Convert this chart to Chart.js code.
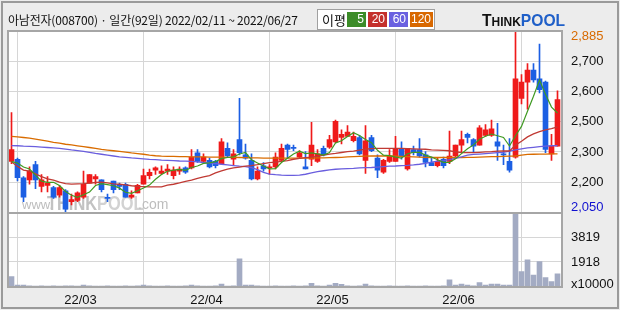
<!DOCTYPE html>
<html><head><meta charset="utf-8">
<script src="https://cdn.jsdelivr.net/npm/chart.js@4.4.1/dist/chart.umd.min.js"></script>
<style>
html,body{margin:0;padding:0;background:#ececec;}
#wrap{position:relative;width:620px;height:310px;overflow:hidden;}
#c{position:absolute;left:0;top:0;}
.h{position:absolute;white-space:nowrap;}
#title{left:8px;top:11px;font:12px "Noto Sans CJK KR",sans-serif;color:#111;letter-spacing:-0.2px;}
#legend{left:317px;top:9px;width:118px;height:21px;background:#fff;border:1px solid #a0a0a0;box-sizing:border-box;}
#legend .t{position:absolute;left:4px;top:1px;font:13px "Noto Sans CJK KR",sans-serif;color:#111;line-height:17px;}
#legend .b{position:absolute;top:2px;height:15px;color:#fff;font:12px "Liberation Sans",sans-serif;line-height:15px;text-align:right;box-sizing:border-box;padding-right:2px;}
#logo{left:482px;top:11px;font-family:"Liberation Sans",Arial,sans-serif;font-weight:bold;transform:scaleX(0.92);transform-origin:left top;}
</style></head>
<body>
<div id="wrap">
<canvas id="c" width="620" height="310"></canvas>
<div class="h" id="title">아남전자(008700) · 일간(92일) 2022/02/11 ~ 2022/06/27</div>
<div class="h" id="legend"><span class="t">이평</span>
<span class="b" style="left:29px;width:19px;background:#3c8c28">5</span>
<span class="b" style="left:50px;width:19px;background:#c4302c">20</span>
<span class="b" style="left:71px;width:19px;background:#6a60e0">60</span>
<span class="b" style="left:92px;width:23px;background:#d86800">120</span>
</div>
<div class="h" id="logo"><span style="font-size:17px;color:#111">T</span><span style="font-size:13px;color:#111">HINK</span><span style="font-size:17px;color:#1f5fc8">POOL</span></div>
</div>
<script>
const opens  = [2285,2295,2210,2200,2270,2170,2175,2165,2130,2150,2100,2105,2120,2185,2205,2200,2120,2195,2180,2180,2120,2140,2180,2220,2245,2230,2240,2220,2240,2255,2255,2325,2285,2290,2285,2275,2345,2295,2385,2315,2290,2205,2265,2255,2260,2290,2360,2350,2305,2260,2295,2285,2345,2350,2375,2395,2400,2380,2395,2290,2395,2300,2235,2285,2285,2345,2250,2340,2340,2315,2280,2265,2295,2285,2310,2360,2410,2385,2360,2405,2405,2375,2320,2285,2305,2575,2650,2705,2665,2650,2320,2355];
const highs  = [2510,2300,2215,2260,2285,2225,2215,2170,2175,2155,2135,2145,2240,2225,2225,2200,2135,2195,2185,2185,2150,2180,2250,2250,2260,2265,2270,2260,2260,2260,2340,2340,2320,2300,2290,2390,2370,2340,2575,2365,2320,2260,2280,2270,2325,2365,2365,2360,2335,2330,2465,2340,2355,2405,2475,2430,2450,2420,2405,2450,2405,2315,2295,2340,2400,2375,2345,2355,2390,2330,2305,2300,2305,2425,2360,2425,2415,2390,2450,2455,2475,2460,2360,2390,2885,2685,2735,2735,2825,2655,2410,2610];
const lows   = [2275,2195,2100,2180,2160,2145,2145,2115,2120,2050,2085,2100,2115,2185,2180,2145,2100,2140,2155,2120,2115,2140,2180,2205,2225,2225,2225,2205,2225,2230,2250,2280,2280,2255,2255,2270,2305,2270,2315,2295,2200,2200,2240,2225,2250,2285,2300,2335,2300,2250,2265,2280,2310,2345,2370,2365,2400,2375,2315,2230,2330,2210,2230,2280,2285,2295,2245,2315,2305,2260,2265,2260,2255,2275,2300,2330,2370,2330,2360,2400,2400,2290,2270,2235,2300,2550,2525,2650,2600,2325,2290,2355];
const closes = [2340,2210,2120,2240,2200,2200,2185,2120,2165,2065,2110,2140,2180,2225,2215,2155,2115,2155,2170,2120,2130,2175,2220,2235,2255,2240,2250,2245,2250,2235,2305,2285,2305,2260,2265,2375,2310,2320,2325,2300,2205,2240,2250,2260,2305,2345,2340,2345,2325,2250,2360,2320,2315,2385,2470,2410,2420,2400,2320,2380,2335,2245,2290,2310,2345,2310,2345,2325,2310,2280,2265,2285,2265,2310,2360,2385,2395,2355,2440,2430,2435,2355,2315,2245,2665,2650,2705,2660,2615,2340,2355,2570];
const volumes = [790,150,150,80,70,80,75,80,70,85,80,75,150,80,70,75,80,70,75,80,70,80,150,80,75,70,80,75,70,80,150,80,75,70,80,230,75,80,2150,150,150,80,75,70,80,75,70,80,75,80,280,80,75,150,280,210,80,75,80,230,80,75,70,80,75,70,80,75,70,80,75,70,80,540,150,230,150,80,330,150,230,230,150,150,5600,1175,2070,920,1940,715,410,1000];
const ma5   = [2284,2278,2259,2250,2222,2194,2189,2189,2174,2147,2129,2120,2132,2144,2174,2183,2178,2173,2162,2143,2138,2150,2163,2176,2203,2225,2240,2245,2248,2244,2257,2264,2276,2278,2284,2298,2303,2306,2319,2326,2292,2278,2264,2251,2252,2280,2300,2319,2332,2321,2324,2320,2314,2326,2370,2380,2400,2417,2404,2386,2371,2336,2314,2312,2305,2300,2320,2327,2327,2314,2305,2293,2281,2281,2297,2321,2343,2361,2387,2401,2411,2403,2395,2356,2403,2446,2516,2585,2659,2594,2535,2508];
const ma20  = [2284,2262,2245,2240,2228,2215,2205,2199,2190,2183,2181,2182,2183,2185,2188,2190,2186,2182,2180,2177,2173,2170,2169,2168,2168,2168,2176,2180,2186,2193,2199,2207,2214,2220,2232,2242,2250,2255,2259,2263,2266,2270,2275,2279,2282,2285,2289,2295,2299,2302,2305,2308,2314,2319,2322,2326,2330,2332,2337,2341,2344,2345,2345,2345,2345,2345,2344,2343,2342,2341,2338,2337,2336,2334,2329,2326,2325,2325,2327,2329,2330,2332,2333,2333,2360,2378,2398,2412,2422,2430,2436,2444];
const ma60  = [2358,2357,2355,2354,2353,2351,2349,2347,2345,2342,2338,2335,2331,2327,2322,2318,2314,2310,2306,2304,2301,2299,2297,2294,2293,2291,2290,2289,2287,2286,2285,2283,2280,2278,2275,2272,2269,2266,2263,2261,2256,2247,2235,2227,2224,2222,2221,2221,2222,2226,2232,2238,2242,2246,2249,2251,2252,2253,2255,2256,2257,2259,2261,2263,2264,2266,2267,2269,2272,2276,2282,2286,2289,2293,2299,2306,2314,2317,2319,2321,2323,2325,2327,2332,2338,2343,2347,2350,2353,2355,2357,2358];
const ma120 = [2400,2398,2395,2392,2388,2383,2378,2373,2369,2364,2361,2357,2353,2349,2345,2340,2337,2334,2331,2328,2324,2321,2318,2314,2311,2309,2308,2308,2307,2307,2306,2306,2306,2305,2305,2305,2304,2304,2303,2302,2301,2301,2300,2300,2300,2300,2300,2300,2300,2300,2300,2301,2301,2302,2303,2304,2306,2307,2308,2309,2310,2310,2310,2310,2309,2308,2307,2306,2305,2304,2303,2303,2303,2303,2303,2303,2304,2304,2305,2306,2307,2307,2308,2309,2310,2314,2317,2318,2319,2319,2320,2320];
const monthLabels = ['22/03','22/04','22/05','22/06'];
const monthStartIdx = [12,33,54,75];
const priceTickLabels = ['2,885','2,700','2,600','2,500','2,300','2,200','2,050'];
const priceMax = 2885, priceMin = 2050;
const volTickLabels = ['3819','1918','x10000'];
const volTickVals = [3819,1918,230];
const volMax = 5700;

const UP='#ef1a1a', DOWN='#1c5fe3';
const idx = closes.map((_,i)=>i);
const candleCol = idx.map(i => closes[i] >= opens[i] ? UP : DOWN);
const bodies = idx.map(i => ({x:i, y:[opens[i], closes[i]]}));
const wicks = idx.map(i => ({x:i, y:[lows[i], highs[i]]}));
const vols = idx.map(i => ({x:i, y:volumes[i]}));
const line = arr => arr.map((v,i)=>({x:i,y:v}));

const step = (priceMax-priceMin)/6;
const priceTickVals = [0,1,2,3,4,5,6].map(k => k===0 ? priceMax-step*0.18 : k===6 ? priceMin+step*0.18 : priceMax-k*step);

const FONT = {family:'"Liberation Sans Narrow","Liberation Sans",Arial,sans-serif', size:13};

const deco = {
  id:'deco',
  beforeDraw(ch){
    const c=ch.ctx, a=ch.chartArea;
    c.save();
    c.fillStyle='#ececec'; c.fillRect(0,0,620,310);
    c.fillStyle='#fff'; c.fillRect(a.left,a.top,a.right-a.left,a.bottom-a.top);
    c.restore();
  },
  beforeDatasetsDraw(ch){
    const c=ch.ctx;
    c.save();
    c.textBaseline='alphabetic';
    c.fillStyle='#bdbdbd';
    c.font='13px "Liberation Sans",Arial,sans-serif';
    c.fillText('www.',22,209);
    c.save();
    c.translate(47,210); c.scale(0.78,1);
    c.font='bold 21px "Liberation Sans",Arial,sans-serif';
    c.fillStyle='#c2c2c2';
    c.fillText('THINK',0,0);
    const w=c.measureText('THINK').width;
    c.fillStyle='#d2d2d2';
    c.fillText('POOL',w,0);
    c.restore();
    c.fillStyle='#bdbdbd';
    c.font='14px "Liberation Sans",Arial,sans-serif';
    c.fillText('.com',138,209);
    c.restore();
  },
  afterDraw(ch){
    const c=ch.ctx, a=ch.chartArea, sep=ch.scales.y.bottom;
    c.save();
    c.fillStyle='#a6a6a6';
    c.fillRect(a.left-1,a.top-1,a.right-a.left+2,2);
    c.fillRect(a.left-1,a.bottom-1,a.right-a.left+2,2);
    c.fillRect(a.left-1,a.top-1,2,a.bottom-a.top+2);
    c.fillRect(a.right-1,a.top-1,2,a.bottom-a.top+2);
    c.fillRect(a.left-1,Math.round(sep)-1,a.right-a.left+2,2);
    c.fillStyle='#9a9a9a';
    c.fillRect(1,1,618,2); c.fillRect(1,307,618,2);
    c.fillRect(1,1,2,308); c.fillRect(617,1,2,308);
    c.restore();
  }
};

new Chart(document.getElementById('c'), {
  data:{datasets:[
    {type:'line', label:'MA5', data:line(ma5), borderColor:'#3f9a22', borderWidth:1.2, pointRadius:0, tension:0, order:0},
    {type:'line', label:'MA20', data:line(ma20), borderColor:'#c03a34', borderWidth:1.3, pointRadius:0, tension:0, order:0},
    {type:'line', label:'MA60', data:line(ma60), borderColor:'#6a5ede', borderWidth:1.3, pointRadius:0, tension:0, order:0},
    {type:'line', label:'MA120', data:line(ma120), borderColor:'#d96c00', borderWidth:1.3, pointRadius:0, tension:0, order:0},
    {type:'bar', label:'body', data:bodies, backgroundColor:candleCol, barThickness:5, grouped:false, minBarLength:1, order:1},
    {type:'bar', label:'wick', data:wicks, backgroundColor:candleCol, barThickness:1, grouped:false, order:2},
    {type:'bar', label:'vol', data:vols, yAxisID:'yv', backgroundColor:'#a3abc3', barThickness:5, grouped:false, order:3}
  ]},
  options:{
    responsive:false, animation:false, devicePixelRatio:1,
    layout:{padding:{top:31,left:8,right:0,bottom:0}},
    plugins:{legend:{display:false}, tooltip:{enabled:false}},
    scales:{
      x:{type:'linear', position:'bottom', min:-0.5833, max:91.75, offset:false,
        afterFit(s){ s.height=23; },
        afterBuildTicks(s){ s.ticks = monthStartIdx.map(i=>({value:i-0.5})); },
        ticks:{autoSkip:false, maxRotation:0, padding:6, color:'#111', font:FONT, callback:(v,i)=>monthLabels[i]},
        grid:{color:'#d6d6d6', lineWidth:1, drawTicks:false}, border:{display:false}},
      y:{type:'linear', position:'right', stack:'s', stackWeight:181.5, min:priceMin, max:priceMax,
        afterFit(s){ s.width=58; },
        afterBuildTicks(s){ s.ticks = priceTickVals.map(v=>({value:v})); },
        ticks:{autoSkip:false, padding:9, font:FONT, callback:(v,i)=>priceTickLabels[i],
          color:c=> c.index===0 ? '#d86a00' : c.index===6 ? '#1010d0' : '#111'},
        grid:{color:c=> (c.index===0||c.index===6) ? 'rgba(0,0,0,0)' : '#d6d6d6', lineWidth:1, drawTicks:false},
        border:{display:false}},
      yv:{type:'linear', position:'right', stack:'s', stackWeight:74.5, min:0, max:volMax,
        afterFit(s){ s.width=58; },
        afterBuildTicks(s){ s.ticks = volTickVals.map(v=>({value:v})); },
        ticks:{autoSkip:false, padding:9, font:FONT, color:'#111', callback:(v,i)=>volTickLabels[i]},
        grid:{color:c=> c.index===2 ? 'rgba(0,0,0,0)' : '#d6d6d6', lineWidth:1, drawTicks:false},
        border:{display:false}}
    }
  },
  plugins:[deco]
});
</script>
</body></html>
